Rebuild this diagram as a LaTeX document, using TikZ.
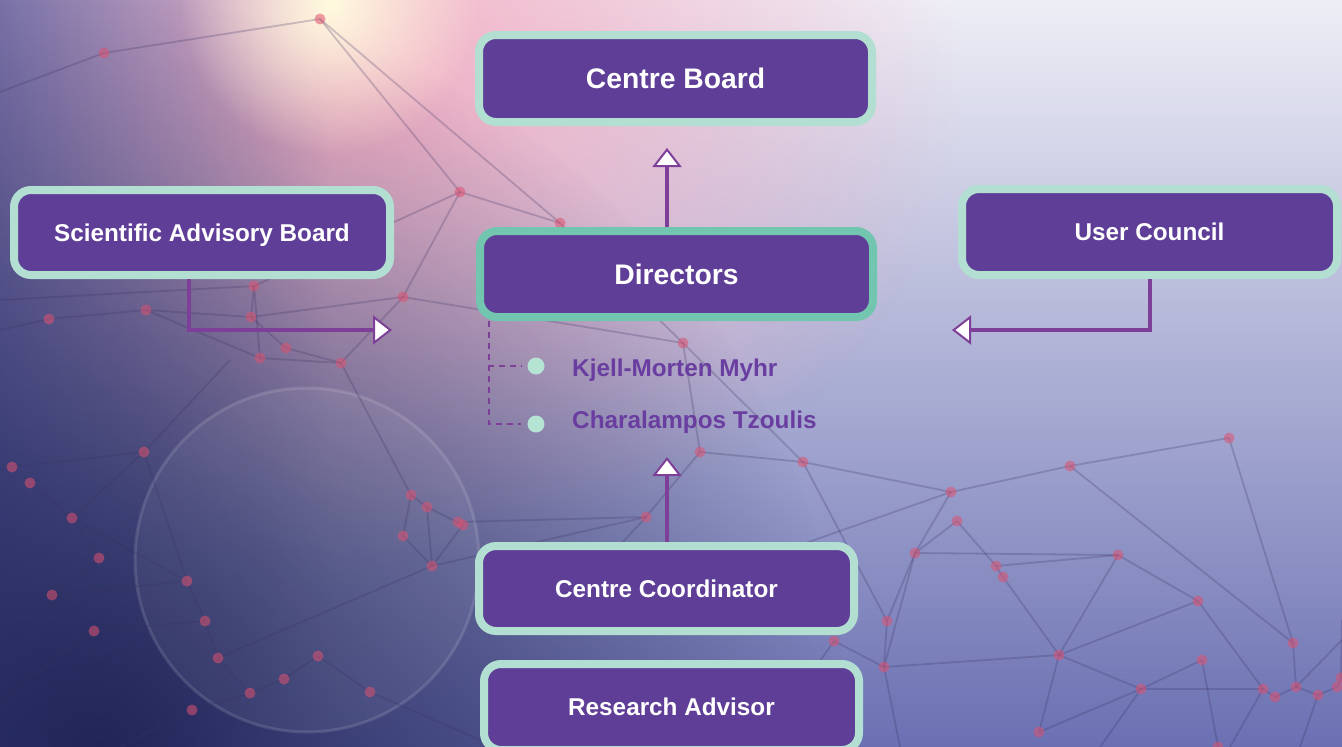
\documentclass[tikz,border=0pt]{standalone}
\usepackage{fontspec}
\setmainfont{Liberation Sans}
\usetikzlibrary{arrows.meta,fadings,calc}

\definecolor{boxpurple}{RGB}{95,62,151}
\definecolor{mintedge}{RGB}{179,223,210}
\definecolor{dirmint}{RGB}{114,198,175}
\definecolor{linkpurple}{RGB}{125,63,152}
\definecolor{namepurple}{RGB}{106,62,160}
\definecolor{dotmint}{RGB}{181,227,212}
\definecolor{bgtop}{RGB}{238,238,246}
\definecolor{bgmid}{RGB}{184,187,221}
\definecolor{bgbot}{RGB}{106,112,178}
\definecolor{navy}{RGB}{58,63,138}
\definecolor{deepnavy}{RGB}{28,32,80}
\definecolor{glowpink}{RGB}{244,170,192}
\definecolor{glowcore}{RGB}{255,250,222}
\definecolor{netline}{RGB}{60,50,100}
\definecolor{netred}{RGB}{222,82,112}

\tikzfading[name=fadetoright, left color=transparent!0, right color=transparent!100]
\tikzfading[name=softglow, inner color=transparent!0, outer color=transparent!100]

\begin{document}
\begin{tikzpicture}[x=1pt, y=-1pt,
  orgbox/.style={draw=mintedge, line width=8pt, fill=boxpurple, rounded corners=17pt,
    text=white, font=\bfseries\fontsize{24.3}{28}\selectfont,
    inner sep=0pt, text height=17.4pt, text depth=0pt},
  bigtext/.style={font=\bfseries\fontsize{28.3}{32}\selectfont, text height=20.3pt},
  link/.style={draw=linkpurple, line width=3.5pt,
    -{Triangle[length=19pt, width=29pt, fill=white, line width=2pt]}},
  dashlink/.style={draw=linkpurple, line width=1.6pt, dash pattern=on 6pt off 5pt, shorten >=6pt},
  dotnode/.style={circle, fill=dotmint, minimum size=17pt, inner sep=0pt},
  nametext/.style={text=namepurple, font=\bfseries\fontsize{24.3}{28}\selectfont, inner sep=0pt},
  netedge/.style={draw=netline, line width=1.8pt, draw opacity=0.25},
  netdot/.style={fill=netred, fill opacity=0.55}
]
\useasboundingbox (0,0) rectangle (1342,747);
\clip (0,0) rectangle (1342,747);

% background: vertical wash, pink flare, darker left side and lower-left corner, bokeh
\shade[top color=bgtop, middle color=bgmid, bottom color=bgbot] (0,0) rectangle (1342,747);
\fill[glowpink, fill opacity=0.95, path fading=softglow] (340,90) ellipse (620 and 480);
\fill[navy, fill opacity=0.85, path fading=fadetoright] (-100,0) rectangle (330,747);
\fill[deepnavy, fill opacity=0.9, path fading=softglow] (100,747) circle (750);
\fill[glowcore, path fading=softglow] (330,5) circle (150);
\filldraw[white, fill opacity=0.06, draw opacity=0.12, line width=3pt] (307,560) circle (172);

% network mesh
\foreach \a/\b/\c/\d in {
  104/53/320/19, 104/53/0/92, 320/19/460/192, 320/19/560/223, 460/192/254/286,
  460/192/403/297, 560/223/683/343, 460/192/560/223, 0/300/254/286, 49/319/146/310,
  146/310/251/317, 251/317/403/297, 254/286/251/317, 251/317/286/348, 286/348/341/363,
  260/358/341/363, 254/286/260/358, 403/297/341/363, 403/297/683/343, 341/363/411/495,
  0/330/49/319, 146/310/260/358, 683/343/700/452, 683/343/803/462,
  12/467/144/452, 12/467/30/483, 30/483/72/518, 144/452/72/518, 72/518/187/581,
  144/452/187/581, 52/595/187/581, 72/518/99/558, 99/558/52/595, 94/631/205/621,
  205/621/218/658, 218/658/250/693, 250/693/192/710, 250/693/284/679, 284/679/318/656,
  318/656/370/692, 218/658/432/566, 187/581/205/621, 144/452/230/360, 0/700/94/631,
  192/710/120/747, 370/692/480/740, 411/495/427/507, 427/507/463/525, 411/495/403/536,
  403/536/432/566, 427/507/432/566, 463/525/432/566, 458/522/646/517, 432/566/646/517,
  646/517/700/452, 700/452/803/462, 803/462/951/492, 951/492/1070/466, 1070/466/1229/438,
  1229/438/1293/643, 951/492/915/553, 951/492/800/545, 957/521/996/566, 996/566/1003/577,
  915/553/1118/555, 996/566/1118/555, 1003/577/1059/655, 1118/555/1198/601,
  1198/601/1263/689, 1059/655/1198/601, 1059/655/1141/689, 1141/689/1263/689,
  1118/555/1059/655, 1070/466/1293/643, 1293/643/1296/687, 1202/660/1141/689,
  1202/660/1218/747, 803/462/887/621, 887/621/884/667, 834/641/884/667, 915/553/887/621,
  915/553/884/667, 884/667/1059/655, 1059/655/1039/732, 1039/732/1141/689,
  1263/689/1275/697, 1275/697/1296/687, 1296/687/1318/695, 1318/695/1337/687,
  1337/687/1341/678, 1341/678/1342/620, 1296/687/1342/640, 884/667/900/747,
  1141/689/1100/747, 1263/689/1230/747, 1318/695/1300/747, 957/521/915/553,
  834/641/760/747, 646/517/560/610}
  \draw[netedge] (\a,\b) -- (\c,\d);

\foreach \x/\y in {
  104/53, 320/19, 460/192, 560/223, 254/286, 403/297, 146/310, 49/319, 251/317,
  286/348, 260/358, 341/363, 683/343,
  12/467, 30/483, 144/452, 72/518, 99/558, 52/595, 187/581, 94/631, 205/621, 218/658,
  250/693, 192/710, 284/679, 318/656, 370/692, 411/495, 427/507, 458/522, 463/525,
  403/536, 432/566,
  700/452, 646/517, 803/462,
  951/492, 1070/466, 1229/438, 957/521, 915/553, 996/566, 1003/577, 1118/555, 887/621,
  834/641, 884/667, 1059/655, 1198/601, 1202/660, 1141/689, 1293/643, 1263/689,
  1275/697, 1296/687, 1318/695, 1337/687, 1341/678, 1039/732, 1218/747}
  \fill[netdot] (\x,\y) circle (5.5);

% organisation boxes
\node[orgbox, bigtext, minimum width=393pt, minimum height=87pt] (board) at (675.5,78.5) {Centre Board};
\node[orgbox, minimum width=376pt, minimum height=85pt] (sab) at (202,232.5) {Scientific Advisory Board};
\node[orgbox, bigtext, draw=dirmint, minimum width=393pt, minimum height=86pt] (dirs) at (676.5,274) {Directors};
\node[orgbox, minimum width=375pt, minimum height=86pt] (uc) at (1149.5,232) {User Council};
\node[orgbox, minimum width=375pt, minimum height=85pt] (coord) at (666.5,588.5) {Centre Coordinator};
\node[orgbox, minimum width=375pt, minimum height=86pt] (radv) at (671.5,707) {Research Advisor};

% director names
\node[dotnode] (dot1) at (536,366) {};
\node[dotnode] (dot2) at (536,424) {};
\node[nametext, anchor=base west] (kjell) at (572,376.5) {Kjell-Morten Myhr};
\node[nametext, anchor=base west] (chara) at (572,428) {Charalampos Tzoulis};

% reporting lines
\coordinate (upx) at (667,0);
\coordinate (sabx) at (189,0);
\coordinate (ucx) at (1150,0);
\coordinate (trunk) at (489,0);
\coordinate (sabtip) at (392,330);
\coordinate (uctip) at (952,330);
\coordinate (coordtip) at (667,457);

\draw[link] (dirs.north -| upx) -- ($(board.south -| upx)+(0,22)$);
\draw[link] (sab.south -| sabx) |- (sabtip);
\draw[link] (uc.south -| ucx) |- (uctip);
\draw[link] (coord.north -| upx) -- (coordtip);

\draw[dashlink] (dirs.south -| trunk) |- (dot1.west);
\draw[dashlink] (dirs.south -| trunk) |- (dot2.west);
\end{tikzpicture}
\end{document}
